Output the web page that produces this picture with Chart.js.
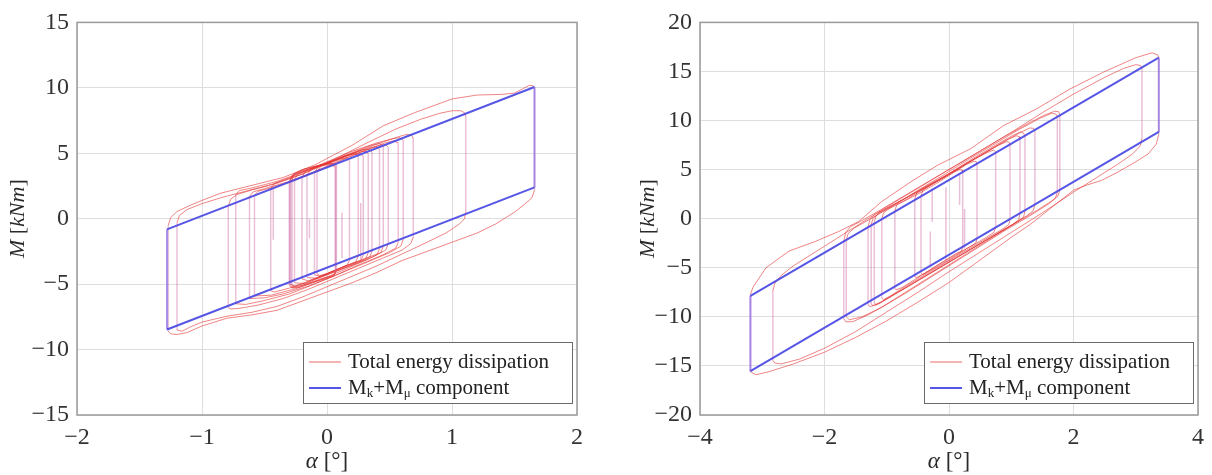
<!DOCTYPE html>
<html>
<head>
<meta charset="utf-8">
<script src="https://cdn.jsdelivr.net/npm/chart.js@4.4.1/dist/chart.umd.min.js"></script>
<style>
  body { margin: 0; background: #fff; }
  canvas { position: absolute; top: 0; }
</style>
</head>
<body>
<canvas id="chartLeft" width="606" height="475" style="left:0"></canvas>
<canvas id="chartRight" width="606" height="475" style="left:606px"></canvas>
<script>
// axis ticks
let xTicksLeft = [-2, -1, 0, 1, 2];
let yTicksLeft = [-15, -10, -5, 0, 5, 10, 15];
let xTicksRight = [-4, -2, 0, 2, 4];
let yTicksRight = [-20, -15, -10, -5, 0, 5, 10, 15, 20];

let seriesNames = ['Total energy dissipation', 'M_k+M_\u03bc component'];

// M_k + M_mu parallelograms [alpha, M]
let blueLeft = [[-1.28, -8.47], [-1.28, -0.82], [1.66, 10.06], [1.66, 2.39], [-1.28, -8.47]];
let blueRight = [[-3.19, -15.54], [-3.19, -7.87], [3.37, 16.4], [3.37, 8.84], [-3.19, -15.54]];

// total energy dissipation loops, left test [alpha, M]
let redLeft = [
  [[-1.27,-8.6],[-1.27,-0.5],[-1.25,0.1],[-1.2,0.55],[-1.1,1.0],[-1.0,1.4],[-0.85,1.95],[-0.6,2.55],[-0.35,3.15],[-0.1,4.1],[0.2,5.6],[0.45,7.1],[0.7,8.1],[1.0,9.15],[1.2,9.45],[1.4,9.5],[1.5,9.6],[1.57,9.95],[1.62,10.2],[1.65,10.15],[1.66,9.9],
   [1.66,2.2],[1.64,1.6],[1.58,1.1],[1.5,0.5],[1.35,-0.4],[1.2,-1.1],[1.0,-1.8],[0.8,-2.5],[0.6,-3.2],[0.4,-4.1],[0.2,-4.9],[0.0,-5.6],[-0.2,-6.3],[-0.4,-7.0],[-0.6,-7.35],[-0.8,-7.6],[-1.0,-8.2],[-1.12,-8.7],[-1.2,-8.85],[-1.25,-8.8],[-1.27,-8.6]],
  [[-1.2,-8.5],[-1.2,-0.3],[-1.18,0.25],[-1.12,0.7],[-1.0,1.15],[-0.85,1.6],[-0.65,2.1],[-0.45,2.6],[-0.2,3.4],[0.05,4.5],[0.3,5.7],[0.55,6.85],[0.75,7.6],[0.9,8.05],[1.0,8.25],[1.07,8.25],[1.1,8.1],[1.11,7.8],
   [1.11,0.5],[1.1,0.0],[1.06,-0.4],[0.95,-1.1],[0.8,-1.8],[0.6,-2.7],[0.4,-3.6],[0.2,-4.4],[0.0,-5.2],[-0.2,-6.0],[-0.4,-6.7],[-0.6,-7.15],[-0.8,-7.45],[-1.0,-7.9],[-1.1,-8.3],[-1.16,-8.6],[-1.2,-8.5]],
  [[-0.79,-6.8],[-0.79,0.95],[-0.77,1.5],[-0.72,1.85],[-0.6,2.2],[-0.4,2.7],[-0.2,3.4],[0.0,4.2],[0.2,5.0],[0.4,5.7],[0.55,6.2],[0.64,6.45],[0.68,6.35],[0.69,6.1],
   [0.69,-1.4],[0.67,-1.9],[0.6,-2.4],[0.45,-3.0],[0.25,-3.8],[0.05,-4.6],[-0.15,-5.4],[-0.35,-6.1],[-0.55,-6.6],[-0.7,-6.85],[-0.77,-6.9],[-0.79,-6.8]],
  [[-0.73,-6.5],[-0.73,1.85],[-0.7,2.15],[-0.6,2.35],[-0.4,2.85],[-0.2,3.55],[0.0,4.35],[0.2,5.15],[0.4,5.8],[0.52,6.1],[0.58,6.2],[0.61,6.0],
   [0.61,-1.6],[0.59,-2.1],[0.5,-2.6],[0.3,-3.4],[0.1,-4.2],[-0.1,-5.0],[-0.3,-5.75],[-0.5,-6.25],[-0.65,-6.55],[-0.73,-6.5]],
  [[-0.62,-6.1],[-0.62,1.7],[-0.59,2.05],[-0.5,2.3],[-0.3,2.85],[-0.1,3.6],[0.1,4.45],[0.3,5.2],[0.45,5.75],[0.53,5.95],[0.57,5.8],
   [0.57,-1.8],[0.55,-2.25],[0.45,-2.75],[0.25,-3.55],[0.05,-4.4],[-0.15,-5.15],[-0.35,-5.75],[-0.5,-6.05],[-0.62,-6.1]],
  [[-0.58,-5.9],[-0.58,1.8],[-0.55,2.1],[-0.45,2.35],[-0.25,2.95],[-0.05,3.75],[0.15,4.6],[0.3,5.2],[0.42,5.6],[0.47,5.65],[0.49,5.45],
   [0.49,-1.9],[0.47,-2.4],[0.35,-3.0],[0.15,-3.85],[-0.05,-4.65],[-0.25,-5.35],[-0.45,-5.85],[-0.58,-5.9]],
  [[-0.45,-5.5],[-0.45,2.3],[-0.42,2.7],[-0.35,2.95],[-0.2,3.5],[0.0,4.3],[0.15,4.85],[0.22,5.0],[0.25,4.85],
   [0.25,-2.85],[0.23,-3.3],[0.1,-3.8],[-0.1,-4.6],[-0.3,-5.3],[-0.42,-5.6],[-0.45,-5.5]],
  [[-0.3,-5.0],[-0.3,2.9],[-0.27,3.35],[-0.2,3.6],[-0.05,4.1],[0.1,4.6],[0.25,5.15],[0.35,5.45],[0.4,5.5],[0.42,5.3],
   [0.42,-2.3],[0.4,-2.75],[0.3,-3.2],[0.15,-3.75],[0.0,-4.3],[-0.15,-4.85],[-0.25,-5.15],[-0.3,-5.0]],
  [[-0.26,-4.9],[-0.26,3.0],[-0.23,3.45],[-0.15,3.75],[0.0,4.25],[0.15,4.8],[0.28,5.25],[0.34,5.3],[0.36,5.1],
   [0.36,-2.5],[0.34,-2.95],[0.25,-3.35],[0.1,-3.9],[-0.05,-4.45],[-0.18,-4.95],[-0.26,-4.9]],
  [[-0.16,-4.5],[-0.16,3.3],[-0.13,3.75],[-0.05,4.05],[0.1,4.6],[0.25,5.1],[0.31,5.15],[0.33,4.95],
   [0.33,-2.6],[0.31,-3.05],[0.2,-3.5],[0.05,-4.05],[-0.08,-4.55],[-0.16,-4.5]],
  [[-0.2,-4.6],[-0.2,3.2],[-0.17,3.65],[-0.05,4.05],[0.1,4.55],[0.16,4.65],[0.18,4.45],
   [0.18,-3.2],[0.16,-3.55],[0.0,-4.2],[-0.15,-4.75],[-0.2,-4.6]],
  [[-0.08,-4.2],[-0.08,3.6],[-0.05,4.0],[0.05,4.35],[0.18,4.85],[0.26,5.0],[0.29,4.8],
   [0.29,-2.8],[0.27,-3.2],[0.15,-3.6],[0.0,-4.2],[-0.06,-4.35],[-0.08,-4.2]],
  [[-0.1,-4.3],[-0.1,3.5],[-0.07,4.0],[0.05,4.45],[0.2,5.05],[0.35,5.6],[0.42,5.75],[0.45,5.6],
   [0.45,-2.1],[0.43,-2.6],[0.3,-3.05],[0.1,-3.8],[-0.05,-4.4],[-0.1,-4.3]],
  [[-0.29,-5.1],[-0.29,2.9],[-0.27,3.4],[-0.2,3.75],[-0.1,4.0],[0.0,4.2],[0.05,4.2],[0.07,4.0],
   [0.07,-4.0],[0.05,-4.35],[-0.05,-4.65],[-0.15,-4.95],[-0.25,-5.25],[-0.28,-5.25],[-0.29,-5.1]],
  [[-0.28,-5.05],[-0.28,2.95],[-0.26,3.45],[-0.18,3.8],[-0.05,4.1],[0.04,4.25],[0.075,4.1],
   [0.075,-3.9],[0.06,-4.3],[-0.05,-4.6],[-0.2,-5.1],[-0.27,-5.2],[-0.28,-5.05]],
  [[-0.3,-5.15],[-0.3,2.8],[-0.28,3.3],[-0.2,3.65],[-0.08,4.0],[0.03,4.15],[0.065,3.95],
   [0.065,-4.1],[0.05,-4.4],[-0.1,-4.85],[-0.22,-5.25],[-0.28,-5.3],[-0.3,-5.15]],
  [[-0.43,2.3],[-0.43,-1.6]],
  [[0.12,0.45],[0.12,-3.0]],
  [[-0.14,0.0],[-0.14,-1.5]],
  [[0.27,1.2],[0.27,-3.1]]
];

// total energy dissipation loops, right test [alpha, M]
let redRight = [
  [[-3.19,-15.6],[-3.19,-7.7],[-3.15,-7.0],[-2.94,-5.0],[-2.57,-3.3],[-2.14,-2.3],[-1.77,-1.3],[-1.45,-0.28],[-1.08,1.75],[-0.61,3.77],[-0.18,5.46],[0.35,7.14],[0.88,9.5],[1.41,11.2],[1.94,13.2],[2.47,14.9],[3.0,16.4],[3.26,16.9],[3.35,16.7],[3.37,16.4],
   [3.37,8.6],[3.33,7.6],[3.2,6.6],[3.0,5.8],[2.7,4.7],[2.45,3.9],[2.2,3.4],[2.0,2.9],[1.7,1.4],[1.3,-0.6],[1.0,-1.9],[0.5,-4.2],[0.0,-6.5],[-0.5,-8.5],[-1.0,-10.4],[-1.5,-12.1],[-2.0,-13.6],[-2.5,-14.8],[-2.9,-15.6],[-3.1,-15.9],[-3.19,-15.6]],
  [[-2.83,-14.45],[-2.83,-7.37],[-2.8,-6.6],[-2.7,-5.8],[-2.5,-4.8],[-2.2,-3.6],[-1.8,-2.0],[-1.4,-0.4],[-1.0,1.2],[-0.5,3.1],[0.0,5.0],[0.5,6.9],[1.0,8.8],[1.5,10.8],[2.0,12.7],[2.5,14.4],[2.8,15.3],[3.0,15.7],[3.08,15.6],[3.1,15.3],
   [3.1,8.2],[3.07,7.4],[2.95,6.6],[2.7,5.5],[2.4,4.3],[2.0,2.7],[1.5,0.6],[1.0,-1.4],[0.5,-3.4],[0.0,-5.4],[-0.5,-7.5],[-1.0,-9.5],[-1.5,-11.5],[-2.0,-13.2],[-2.4,-14.3],[-2.7,-14.8],[-2.8,-14.7],[-2.83,-14.45]],
  [[-1.69,-10.2],[-1.69,-2.3],[-1.66,-1.4],[-1.58,-0.8],[-1.4,-0.2],[-1.1,0.9],[-0.7,2.4],[-0.3,3.9],[0.1,5.4],[0.5,6.9],[0.9,8.4],[1.3,9.8],[1.55,10.6],[1.7,10.95],[1.76,10.9],[1.78,10.6],
   [1.78,2.9],[1.75,2.3],[1.65,1.8],[1.4,0.8],[1.0,-0.7],[0.6,-2.3],[0.2,-3.9],[-0.2,-5.5],[-0.6,-7.1],[-1.0,-8.7],[-1.3,-9.8],[-1.55,-10.5],[-1.66,-10.5],[-1.69,-10.2]],
  [[-1.65,-10.0],[-1.65,-2.2],[-1.62,-1.5],[-1.52,-0.95],[-1.3,-0.15],[-0.9,1.3],[-0.5,2.9],[-0.1,4.4],[0.3,6.0],[0.7,7.5],[1.1,9.0],[1.45,10.2],[1.65,10.75],[1.72,10.65],[1.74,10.4],
   [1.74,2.7],[1.71,2.1],[1.6,1.5],[1.3,0.3],[0.9,-1.2],[0.5,-2.8],[0.1,-4.4],[-0.3,-6.0],[-0.7,-7.6],[-1.1,-9.1],[-1.4,-10.0],[-1.6,-10.3],[-1.65,-10.0]],
  [[-1.3,-8.8],[-1.3,-0.8],[-1.27,-0.1],[-1.2,0.4],[-1.0,1.1],[-0.6,2.4],[-0.2,3.8],[0.2,5.3],[0.6,6.8],[0.9,7.9],[1.15,8.8],[1.3,9.25],[1.36,9.2],[1.38,8.9],
   [1.38,1.4],[1.35,0.8],[1.25,0.3],[1.0,-0.7],[0.6,-2.2],[0.2,-3.7],[-0.2,-5.2],[-0.6,-6.7],[-0.95,-8.0],[-1.15,-8.75],[-1.27,-8.95],[-1.3,-8.8]],
  [[-1.2,-8.6],[-1.2,-0.3],[-1.17,0.3],[-1.1,0.7],[-0.9,1.4],[-0.5,2.8],[-0.1,4.2],[0.3,5.7],[0.7,7.2],[0.95,8.1],[1.08,8.45],[1.13,8.35],[1.14,8.1],
   [1.14,0.5],[1.12,-0.1],[1.02,-0.6],[0.7,-1.8],[0.3,-3.3],[-0.1,-4.8],[-0.5,-6.3],[-0.85,-7.6],[-1.08,-8.5],[-1.17,-8.75],[-1.2,-8.6]],
  [[-1.25,-8.7],[-1.25,-0.6],[-1.22,0.05],[-1.12,0.55],[-0.8,1.7],[-0.4,3.2],[0.0,4.6],[0.4,6.2],[0.75,7.5],[1.0,8.4],[1.15,8.85],[1.2,8.7],[1.22,8.4],
   [1.22,0.8],[1.2,0.2],[1.1,-0.3],[0.8,-1.4],[0.4,-2.9],[0.0,-4.4],[-0.4,-5.9],[-0.8,-7.4],[-1.1,-8.5],[-1.22,-8.85],[-1.25,-8.7]],
  [[-1.08,-8.1],[-1.08,0.0],[-1.05,0.6],[-0.98,0.95],[-0.7,1.9],[-0.3,3.4],[0.1,4.9],[0.5,6.4],[0.8,7.5],[0.93,7.85],[0.97,7.75],[0.98,7.5],
   [0.98,-0.1],[0.96,-0.6],[0.85,-1.1],[0.5,-2.4],[0.1,-3.9],[-0.3,-5.4],[-0.7,-6.9],[-0.95,-7.9],[-1.05,-8.25],[-1.08,-8.1]],
  [[-0.87,-7.1],[-0.87,0.8],[-0.84,1.4],[-0.75,1.7],[-0.5,2.5],[-0.2,3.6],[0.1,4.8],[0.3,5.6],[0.4,5.85],[0.44,5.8],[0.45,5.5],
   [0.45,-2.0],[0.43,-2.5],[0.35,-2.8],[0.1,-3.7],[-0.2,-4.8],[-0.5,-6.0],[-0.75,-7.0],[-0.85,-7.25],[-0.87,-7.1]],
  [[-0.55,-5.9],[-0.55,2.0],[-0.52,2.6],[-0.45,2.9],[-0.2,3.8],[0.05,4.7],[0.17,5.0],[0.21,4.95],[0.22,4.7],
   [0.22,-2.9],[0.2,-3.3],[0.1,-3.6],[-0.15,-4.6],[-0.4,-5.6],[-0.52,-6.0],[-0.55,-5.9]],
  [[-0.45,-5.5],[-0.45,2.3],[-0.42,2.9],[-0.3,3.4],[-0.05,4.3],[0.3,5.7],[0.6,6.7],[0.72,7.0],[0.75,6.8],
   [0.75,-0.9],[0.72,-1.4],[0.6,-1.9],[0.3,-3.0],[0.0,-4.2],[-0.3,-5.3],[-0.42,-5.7],[-0.45,-5.5]],
  [[-0.27,3.1],[-0.27,-0.3]],
  [[-0.3,-1.3],[-0.3,-4.7]],
  [[0.17,4.5],[0.17,1.4]],
  [[0.25,1.0],[0.25,-3.0]],
  [[-0.05,3.2],[-0.05,-4.4]]
];

const SERIF = "'Liberation Serif', 'Times New Roman', serif";
const RED = 'rgba(228, 52, 52, 0.6)';
const RED_DROP = 'rgba(206, 104, 164, 0.42)';
const BLUE = 'rgba(72, 72, 228, 0.92)';
const BLUE_DROP = 'rgba(146, 112, 228, 0.75)';

// loops -> one polyline, a null point between loops breaks the line
function toPath(loops) {
  let out = [];
  loops.forEach((loop, i) => {
    if (i > 0) out.push({ x: null, y: null });
    loop.forEach(p => out.push({ x: p[0], y: p[1] }));
  });
  return out;
}

function isDrop(ctx) {
  return ctx.p0.parsed.x === ctx.p1.parsed.x;
}

// text made of runs: {t, it (italic), sub (subscript)}
function drawRuns(ctx, runs, x, y, size, measureOnly) {
  let cx = x;
  runs.forEach(r => {
    let fs = r.sub ? Math.round(size * 0.6) : size;
    ctx.font = (r.it ? 'italic ' : '') + fs + 'px ' + SERIF;
    if (!measureOnly) ctx.fillText(r.t, cx, y + (r.sub ? size * 0.28 : 0));
    cx += ctx.measureText(r.t).width;
  });
  return cx - x;
}

function labelRuns(text) {
  let parts = text.split(/_(.)/);
  return parts.map((t, i) => ({ t: t, sub: i % 2 === 1 }));
}

const titleM = [{ t: 'M', it: true }, { t: ' [' }, { t: 'kNm', it: true }, { t: ']' }];
const titleAlpha = [{ t: '\u03b1', it: true }, { t: ' [\u00b0]' }];

const panelDecor = {
  id: 'panelDecor',
  afterDraw(chart, args, opts) {
    const ctx = chart.ctx, a = chart.chartArea;
    ctx.save();
    // frame round the plot
    ctx.strokeStyle = '#9a9a9a';
    ctx.lineWidth = 1.5;
    ctx.strokeRect(a.left, a.top, a.right - a.left, a.bottom - a.top);

    // legend box in the lower right corner
    const bw = 269, bh = 61;
    const bx = a.right - 5 - bw, by = a.bottom - 12 - bh;
    ctx.fillStyle = '#fff';
    ctx.fillRect(bx, by, bw, bh);
    ctx.strokeStyle = '#6a6a6a';
    ctx.lineWidth = 1;
    ctx.strokeRect(bx + 0.5, by + 0.5, bw, bh);
    ctx.textBaseline = 'middle';
    ctx.textAlign = 'left';
    const sample = [RED, BLUE];
    chart.data.datasets.forEach((ds, i) => {
      const ly = by + 20 + i * 26;
      ctx.strokeStyle = sample[i];
      ctx.lineWidth = i === 0 ? 1.2 : 2;
      ctx.beginPath();
      ctx.moveTo(bx + 6, ly);
      ctx.lineTo(bx + 38, ly);
      ctx.stroke();
      ctx.fillStyle = '#222';
      drawRuns(ctx, labelRuns(ds.label), bx + 45, ly, 21);
    });

    // axis titles
    ctx.fillStyle = '#2a2a2a';
    const xw = drawRuns(ctx, titleAlpha, 0, 0, 23, true);
    drawRuns(ctx, titleAlpha, (a.left + a.right) / 2 - xw / 2, 462, 23);
    ctx.translate(opts.titleX, (a.top + a.bottom) / 2);
    ctx.rotate(-Math.PI / 2);
    const yw = drawRuns(ctx, titleM, 0, 0, 22, true);
    drawRuns(ctx, titleM, -yw / 2, 0, 22);
    ctx.restore();
  }
};

function axis(ticks, fit) {
  return {
    type: 'linear',
    min: ticks[0],
    max: ticks[ticks.length - 1],
    afterBuildTicks: s => { s.ticks = ticks.map(v => ({ value: v })); },
    afterFit: fit,
    grid: { color: '#dedede', lineWidth: 1, drawTicks: false },
    border: { display: false },
    ticks: {
      color: '#333',
      font: { family: SERIF, size: 24 },
      padding: 8,
      callback: v => String(v).replace('-', '\u2212')
    }
  };
}

function makeChart(id, red, blue, xTicks, yTicks, yWidth, padRight, titleX) {
  return new Chart(document.getElementById(id), {
    type: 'scatter',
    data: {
      datasets: [
        {
          label: seriesNames[0],
          data: toPath(red),
          showLine: true,
          borderColor: RED,
          borderWidth: 1,
          pointRadius: 0,
          spanGaps: false,
          order: 1,
          segment: {
            borderColor: ctx => isDrop(ctx) ? RED_DROP : RED,
            borderWidth: ctx => isDrop(ctx) ? 1.5 : 1
          }
        },
        {
          label: seriesNames[1],
          data: toPath([blue]),
          showLine: true,
          borderColor: BLUE,
          borderWidth: 2,
          pointRadius: 0,
          order: 0,
          segment: { borderColor: ctx => isDrop(ctx) ? BLUE_DROP : BLUE }
        }
      ]
    },
    options: {
      responsive: false,
      animation: false,
      layout: { padding: { top: 20, right: padRight, left: 0, bottom: 0 } },
      scales: {
        x: axis(xTicks, s => { s.height = 60; }),
        y: axis(yTicks, s => { s.width = yWidth; })
      },
      plugins: {
        legend: { display: false },
        tooltip: { enabled: false },
        panelDecor: { titleX: titleX }
      }
    },
    plugins: [panelDecor]
  });
}

makeChart('chartLeft', redLeft, blueLeft, xTicksLeft, yTicksLeft, 77, 29, 18);
makeChart('chartRight', redRight, blueRight, xTicksRight, yTicksRight, 94, 9, 42);
</script>
</body>
</html>
